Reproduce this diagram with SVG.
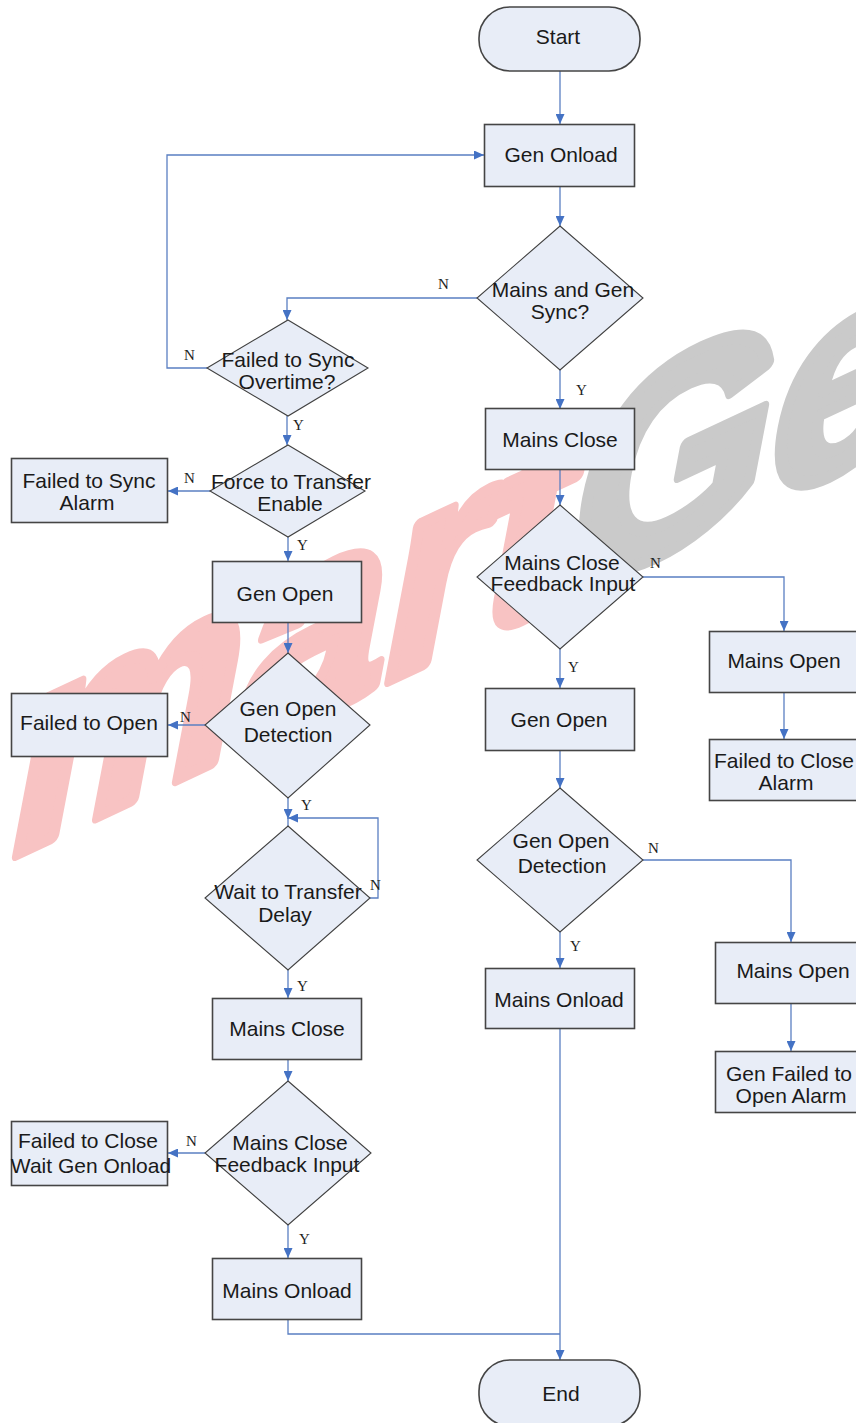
<svg xmlns="http://www.w3.org/2000/svg" width="856" height="1423" viewBox="0 0 856 1423">
<defs>
<marker id="arr" markerUnits="userSpaceOnUse" markerWidth="10" markerHeight="9" refX="10" refY="4.5" orient="auto">
<path d="M0,0 L10,4.5 L0,9 z" fill="#4472C4"/>
</marker>
<style>
.box{fill:#E8EDF7;stroke:#454545;stroke-width:1.6}
.dia{fill:#E8EDF7;stroke:#404040;stroke-width:1.1}
.t{font-family:"Liberation Sans",Arial,sans-serif;font-size:21px;fill:#1a1a1a;text-anchor:middle}
.lbl{font-family:"Liberation Serif","Times New Roman",serif;font-size:15px;fill:#222}
.c{fill:none;stroke:#5A7FC2;stroke-width:1.3}
.ca{fill:none;stroke:#5A7FC2;stroke-width:1.3;marker-end:url(#arr)}
</style>
</defs>
<rect width="856" height="1423" fill="#ffffff"/>

<g id="watermark" transform="matrix(0.92 -0.43 -0.2 1.05 0 862)">
<text x="0" y="0" font-family="Liberation Sans, Arial, sans-serif" font-size="280" font-weight="bold" stroke-width="13" stroke-linejoin="round"><tspan fill="#F8C3C3" stroke="#F8C3C3">mart</tspan><tspan fill="#CACACA" stroke="#CACACA">Ge</tspan></text>
</g>

<g id="connectors">
<path class="ca" d="M560 71 V124"/>
<path class="ca" d="M560 187 V226"/>
<path class="ca" d="M477 298 H287 V320"/>
<path class="ca" d="M207 368 H167 V155 H484"/>
<path class="ca" d="M287 416 V445"/>
<path class="ca" d="M210 491 H168"/>
<path class="ca" d="M288 537 V561"/>
<path class="ca" d="M288 623 V653"/>
<path class="ca" d="M205 725 H168"/>
<path class="ca" d="M288 798 V819"/>
<path class="ca" d="M370 898 H378 V818 H288"/>
<path class="c" d="M288 818 V826"/>
<path class="ca" d="M288 970 V998"/>
<path class="ca" d="M288 1060 V1081"/>
<path class="ca" d="M205 1153 H168"/>
<path class="ca" d="M288 1225 V1258"/>
<path class="c" d="M288 1320 V1334 H560"/>
<path class="ca" d="M560 370 V409"/>
<path class="ca" d="M560 470 V505"/>
<path class="ca" d="M643 577 H784 V631"/>
<path class="ca" d="M784 693 V739"/>
<path class="ca" d="M560 649 V688"/>
<path class="ca" d="M560 751 V788"/>
<path class="ca" d="M643 860 H791 V942"/>
<path class="ca" d="M791 1004 V1051"/>
<path class="ca" d="M560 932 V968"/>
<path class="ca" d="M560 1029 V1360"/>
<text class="lbl" x="438" y="289">N</text>
<text class="lbl" x="184" y="360">N</text>
<text class="lbl" x="576" y="395">Y</text>
<text class="lbl" x="293" y="430">Y</text>
<text class="lbl" x="184" y="483">N</text>
<text class="lbl" x="297" y="550">Y</text>
<text class="lbl" x="650" y="568">N</text>
<text class="lbl" x="568" y="672">Y</text>
<text class="lbl" x="180" y="722">N</text>
<text class="lbl" x="301" y="810">Y</text>
<text class="lbl" x="648" y="853">N</text>
<text class="lbl" x="370" y="890">N</text>
<text class="lbl" x="297" y="991">Y</text>
<text class="lbl" x="570" y="951">Y</text>
<text class="lbl" x="186" y="1146">N</text>
<text class="lbl" x="299" y="1244">Y</text>
</g>

<g id="start">
<rect class="box" x="479" y="7" width="161" height="64" rx="31" ry="31"/>
<text class="t" x="558" y="44">Start</text>
</g>
<g id="gen-onload">
<rect class="box" x="484.5" y="124.5" width="150" height="62"/>
<text class="t" x="561" y="162">Gen Onload</text>
</g>
<g id="sync-decision">
<polygon class="dia" points="560,226 643,298 560,370 477,298"/>
<text class="t" x="563" y="297">Mains and Gen</text>
<text class="t" x="560" y="319">Sync?</text>
</g>
<g id="failed-sync-overtime">
<polygon class="dia" points="288,320 368,368 288,416 207,368"/>
<text class="t" x="288" y="367">Failed to Sync</text>
<text class="t" x="287" y="389">Overtime?</text>
</g>
<g id="force-transfer">
<polygon class="dia" points="288,445 365,491 288,537 210,491"/>
<text class="t" x="291" y="489">Force to Transfer</text>
<text class="t" x="290" y="511">Enable</text>
</g>
<g id="failed-sync-alarm">
<rect class="box" x="11.5" y="458.5" width="156" height="64"/>
<text class="t" x="89" y="488">Failed to Sync</text>
<text class="t" x="87" y="510">Alarm</text>
</g>
<g id="gen-open-left">
<rect class="box" x="212.5" y="561.5" width="149" height="61"/>
<text class="t" x="285" y="601">Gen Open</text>
</g>
<g id="gen-open-detect-left">
<polygon class="dia" points="288,653 370,725 288,798 205,725"/>
<text class="t" x="288" y="716">Gen Open</text>
<text class="t" x="288" y="742">Detection</text>
</g>
<g id="failed-open">
<rect class="box" x="11.5" y="693.5" width="156" height="63"/>
<text class="t" x="89" y="730">Failed to Open</text>
</g>
<g id="wait-transfer">
<polygon class="dia" points="288,826 370,898 288,970 205,898"/>
<text class="t" x="288" y="899">Wait to Transfer</text>
<text class="t" x="285" y="922">Delay</text>
</g>
<g id="mains-close-left">
<rect class="box" x="212.5" y="998.5" width="149" height="61"/>
<text class="t" x="287" y="1036">Mains Close</text>
</g>
<g id="mains-feedback-left">
<polygon class="dia" points="288,1081 371,1153 288,1225 205,1153"/>
<text class="t" x="290" y="1150">Mains Close</text>
<text class="t" x="287" y="1172">Feedback Input</text>
</g>
<g id="failed-close-wait">
<rect class="box" x="11.5" y="1121.5" width="156" height="64"/>
<text class="t" x="88" y="1148">Failed to Close</text>
<text class="t" x="91" y="1173">Wait Gen Onload</text>
</g>
<g id="mains-onload-left">
<rect class="box" x="212.5" y="1258.5" width="149" height="61"/>
<text class="t" x="287" y="1298">Mains Onload</text>
</g>
<g id="mains-close-right">
<rect class="box" x="485.5" y="408.5" width="149" height="61"/>
<text class="t" x="560" y="447">Mains Close</text>
</g>
<g id="mains-feedback-right">
<polygon class="dia" points="560,505 643,577 560,649 477,577"/>
<text class="t" x="562" y="570">Mains Close</text>
<text class="t" x="563" y="591">Feedback Input</text>
</g>
<g id="mains-open-1">
<rect class="box" x="709.5" y="631.5" width="150" height="61"/>
<text class="t" x="784" y="668">Mains Open</text>
</g>
<g id="failed-close-alarm">
<rect class="box" x="709.5" y="739.5" width="150" height="61"/>
<text class="t" x="784" y="768">Failed to Close</text>
<text class="t" x="786" y="790">Alarm</text>
</g>
<g id="gen-open-right">
<rect class="box" x="485.5" y="688.5" width="149" height="62"/>
<text class="t" x="559" y="727">Gen Open</text>
</g>
<g id="gen-open-detect-right">
<polygon class="dia" points="560,788 643,860 560,932 477,860"/>
<text class="t" x="561" y="848">Gen Open</text>
<text class="t" x="562" y="873">Detection</text>
</g>
<g id="mains-open-2">
<rect class="box" x="715.5" y="942.5" width="150" height="61"/>
<text class="t" x="793" y="978">Mains Open</text>
</g>
<g id="gen-failed-open-alarm">
<rect class="box" x="715.5" y="1051.5" width="150" height="61"/>
<text class="t" x="789" y="1081">Gen Failed to</text>
<text class="t" x="791" y="1103">Open Alarm</text>
</g>
<g id="mains-onload-right">
<rect class="box" x="485.5" y="968.5" width="149" height="60"/>
<text class="t" x="559" y="1007">Mains Onload</text>
</g>
<g id="end">
<rect class="box" x="479" y="1360" width="161" height="66" rx="31" ry="31"/>
<text class="t" x="561" y="1401">End</text>
</g>
</svg>
